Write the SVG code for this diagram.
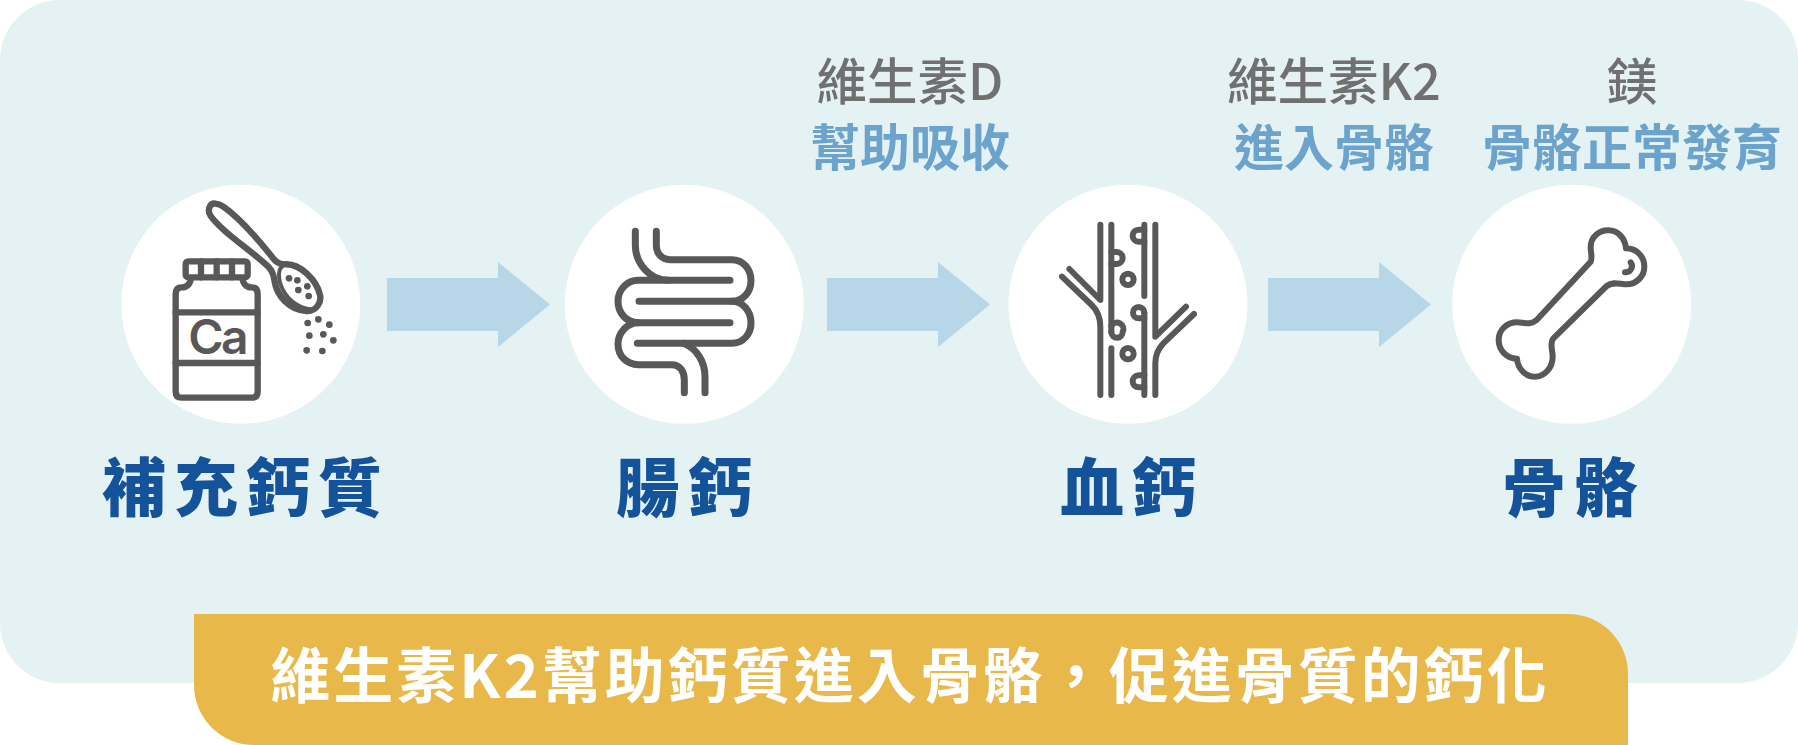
<svg xmlns="http://www.w3.org/2000/svg" width="1798" height="745" viewBox="0 0 1798 745">
<style>
text{font-family:"Noto Sans CJK TC","Noto Sans CJK SC",sans-serif;text-anchor:middle}
.title{font-size:64px;font-weight:900;fill:#145299;letter-spacing:8px}
.gray{font-size:50.500px;font-weight:500;fill:#717071}
.blue{font-size:50px;font-weight:700;fill:#6ba3cc}
.banner{font-size:60px;font-weight:700;fill:#fff;letter-spacing:3px}
.disc{fill:#fff}
.ic{fill:none;stroke:#595757;stroke-linecap:round;stroke-linejoin:round}
.dot{fill:#595757}
.arr{fill:#b7d6e7}
</style>
<rect width="1798" height="745" fill="#fff"/>
<rect id="panel" x="0" y="0" width="1798" height="683" rx="60" ry="60" fill="#e4f2f4"/>
<g id="connectors">
<path class="arr" d="M387 278H498V262L550 304.500L498 347V331H387Z"/>
<path class="arr" d="M827 278H938V262L990 304.500L938 347V331H827Z"/>
<path class="arr" d="M1268 278H1379V262L1431 304.500L1379 347V331H1268Z"/>
</g>
<g id="node-supplement">
<circle class="disc" cx="240.700" cy="304.300" r="119.500"/>
<g transform="translate(100 170) scale(.33333)">
<g class="ic" stroke-width="19">
<path d="M272 325C272 340 262 352 245 352Q227 352 227 372V665Q227 683 245 683H455Q473 683 473 665V372Q473 352 455 352C438 352 428 340 428 325"/>
<rect x="257" y="274" width="186" height="48" rx="8"/>
<path d="M303 274V322M350 274V322M396 274V322M227 427H473M227 579H473"/>
<path d="M346 101C330 98 320 120 332 138C370 190 440 230 505 290Q520 305 523 330C530 380 570 420 620 423C650 425 665 395 660 375C650 330 600 280 555 283Q535 283 522 268C480 215 420 145 370 110Q358 102 346 101Z"/>
<path d="M548 288C530 300 535 340 555 370C575 400 610 420 640 418" stroke-width="12"/>
</g>
<text x="351" y="553" style="font-family:Inter,sans-serif;font-size:144px;font-weight:600;fill:#595757;letter-spacing:-8px">Ca</text>
<g class="dot">
<circle cx="567" cy="325" r="10"/><circle cx="592" cy="331" r="10"/><circle cx="622" cy="349" r="10"/><circle cx="595" cy="360" r="10"/><circle cx="626" cy="378" r="10"/>
<circle cx="623" cy="459" r="10"/><circle cx="655" cy="448" r="10"/><circle cx="688" cy="464" r="10"/><circle cx="628" cy="497" r="10"/><circle cx="670" cy="493" r="10"/><circle cx="700" cy="511" r="10"/><circle cx="620" cy="541" r="10"/><circle cx="667" cy="543" r="10"/>
</g>
</g>
<text class="title" x="246" y="511">補充鈣質</text>
</g>
<g id="node-intestine">
<circle class="disc" cx="684.300" cy="304.300" r="119.500"/>
<g transform="translate(540 170) scale(.33333)" class="ic" stroke-width="21">
<path d="M286 184V225C286 280 330 331 385 331"/>
<path d="M570 331H295C260 331 234 360 234 394C234 430 260 458 295 458H570"/>
<path d="M297 394H575C610 394 633 365 633 332C633 298 610 269 575 269H390C365 269 349 250 349 225V184"/>
<path d="M575 394C610 394 633 425 633 458C633 492 610 520 575 520H292"/>
<path d="M295 458C260 458 234 490 234 522C234 558 260 584 295 584H395C420 584 433 605 433 630V668"/>
<path d="M430 520C470 535 495 575 495 620V668"/>
</g>
<text class="title" x="688" y="511">腸鈣</text>
</g>
<g id="node-blood">
<circle class="disc" cx="1128" cy="304.300" r="119.500"/>
<g transform="translate(1000 170) scale(.33333)" class="ic" stroke-width="18">
<path d="M301 164V390L208 297"/>
<path d="M186 320L275 405Q301 430 301 470V675"/>
<path d="M334 164V486"/>
<path d="M334 246H350A18 18 0 0 1 350 282H334"/>
<path d="M334 486A17 17 0 0 0 368 486A18 18 0 0 0 334 468"/>
<path d="M334 535V675"/>
<circle cx="384" cy="328" r="17"/>
<circle cx="384" cy="551" r="17"/>
<path d="M433 164V378"/>
<path d="M433 179H416A18 18 0 0 0 416 215H433"/>
<path d="M433 428A17 17 0 0 0 399 428A17 17 0 0 0 416 445H433"/>
<path d="M433 428V675"/>
<path d="M433 616H416A18 18 0 0 0 416 652H433"/>
<path d="M466 164V500L558 410"/>
<path d="M582 432L490 520Q466 545 466 580V675"/>
</g>
<text class="title" x="1132" y="511">血鈣</text>
</g>
<g id="node-bone">
<circle class="disc" cx="1571.700" cy="304.300" r="119.500"/>
<g transform="translate(1440 170) scale(.33333)" class="ic" stroke-width="18">
<path d="M452 275C458 262 452 250 452 232C452 200 478 181 505 181C535 181 555 205 558 235C590 235 613 260 613 290C613 320 588 343 560 343C540 343 520 333 500 348L340 505C328 520 338 540 338 560C338 595 312 620 285 620C255 620 233 595 231 566C200 566 176 540 176 510C176 480 200 457 232 457C250 457 270 467 290 450Z"/>
<path d="M555 307C572 307 582 290 572 277"/>
</g>
<text class="title" x="1574" y="511">骨骼</text>
</g>
<g id="note-d">
<text class="gray" x="910" y="100">維生素D</text>
<text class="blue" x="910" y="166">幫助吸收</text>
</g>
<g id="note-k2">
<text class="gray" x="1334" y="100">維生素K2</text>
<text class="blue" x="1334" y="166">進入骨骼</text>
</g>
<g id="note-mg">
<text class="gray" x="1632" y="100">鎂</text>
<text class="blue" x="1632" y="166">骨骼正常發育</text>
</g>
<g id="banner">
<path d="M194 614H1568A60 60 0 0 1 1628 674V745H254A60 60 0 0 1 194 685Z" fill="#e9b84b"/>
<text class="banner" x="910" y="698">維生素K2幫助鈣質進入骨骼，促進骨質的鈣化</text>
</g>
</svg>
